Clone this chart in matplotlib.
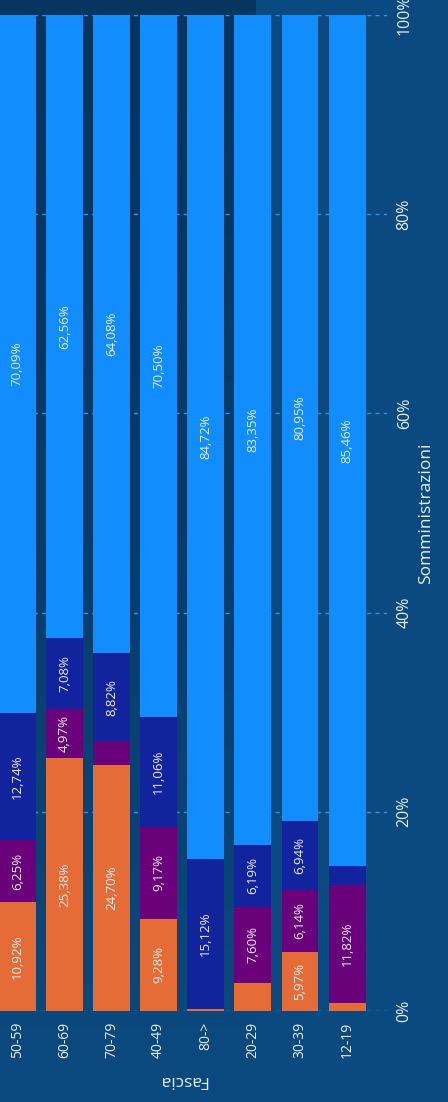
import numpy as np
import matplotlib.pyplot as plt

# Fasce d'età e quote (%) delle somministrazioni per tipo
fasce = ['50-59', '60-69', '70-79', '40-49', '80->', '20-29', '30-39', '12-19']
arancio = [10.92, 25.38, 24.70, 9.28, 0.16, 2.86, 5.97, 0.82]
viola = [6.25, 4.97, 2.40, 9.17, 0.00, 7.60, 6.14, 11.82]
blu_scuro = [12.74, 7.08, 8.82, 11.06, 15.12, 6.19, 6.94, 1.90]
azzurro = [70.09, 62.56, 64.08, 70.50, 84.72, 83.35, 80.95, 85.46]

serie = [arancio, viola, blu_scuro, azzurro]
colori = ['#E66C37', '#6B007B', '#12239E', '#118DFF']

plt.rcParams['font.family'] = ['Open Sans', 'DejaVu Sans']
bg = '#0b4a80'
testo = '#e8eef5'

fig = plt.figure(figsize=(4.48, 11.02), dpi=100, facecolor=bg)

# sfondo: zona più scura a sinistra
bg_ax = fig.add_axes([0, 0, 255 / 448, 1], zorder=0)
grad = np.linspace(0, 1, 256).reshape(-1, 1)
top = np.array([6, 54, 96]) / 255
bot = np.array([11, 74, 128]) / 255
img = top + (bot - top) * grad[..., None] ** 1.5
bg_ax.imshow(img, aspect='auto', extent=(0, 1, 0, 1), origin='upper')
bg_ax.axis('off')

ax = fig.add_axes([0, (1102 - 1011) / 1102, 387 / 448, 996 / 1102], zorder=1)
ax.set_facecolor('none')

x = np.arange(len(fasce))
w = 0.785
base = np.zeros(len(fasce))
for vals, col in zip(serie, colori):
    vals = np.array(vals)
    ax.bar(x, vals, w, bottom=base, color=col, zorder=3)
    for xi, b, v in zip(x, base, vals):
        if v >= 4:
            ax.text(xi, b + v / 2, f'{v:.2f}'.replace('.', ',') + '%',
                    rotation=90, ha='center', va='center',
                    color=testo, fontsize=9.5, zorder=4)
    base += vals

ax.set_xlim(-0.369, 7.847)
ax.set_ylim(0, 100)
ax.set_yticks(np.arange(0, 101, 20))
ax.set_yticklabels([f'{v}%' for v in range(0, 101, 20)])
ax.yaxis.tick_right()
ax.yaxis.set_label_position('right')
ax.grid(axis='y', color='#3590e2', linestyle=(0, (3, 3)), linewidth=1, zorder=1)
ax.set_xticks(x)
ax.set_xticklabels(fasce, rotation=90)
ax.tick_params(axis='both', length=0, colors=testo)
ax.tick_params(axis='x', labelsize=10, pad=8)
ax.tick_params(axis='y', labelsize=11.5, pad=7)
for lab in ax.get_yticklabels():
    lab.set_rotation(90)
    lab.set_va('center')
ax.set_ylabel('Somministrazioni', color=testo, fontsize=12.5, labelpad=4)
for s in ax.spines.values():
    s.set_visible(False)

fig.text(183 / 448, 1 - 1080 / 1102, 'Fascia', rotation=180,
         ha='center', va='center', color=testo, fontsize=12.5)

fig.savefig('out.png', dpi=100, facecolor=bg)
